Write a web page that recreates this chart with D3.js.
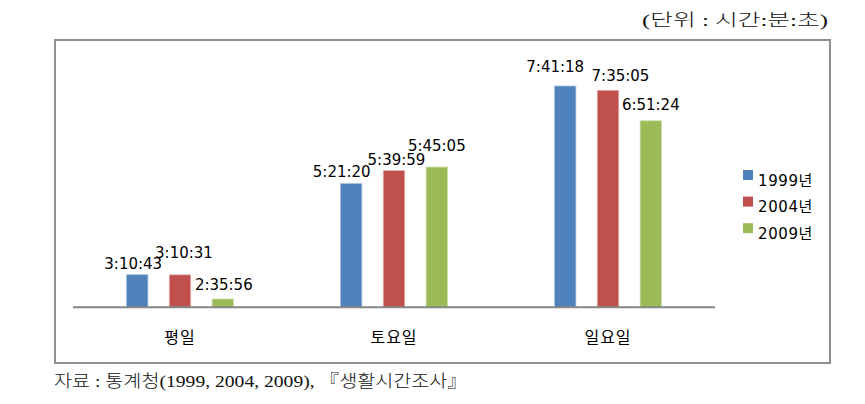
<!DOCTYPE html>
<html>
<head>
<meta charset="utf-8">
<script src="https://cdn.jsdelivr.net/npm/d3@7"></script>
<style>
  html, body { margin: 0; padding: 0; background: #fff; }
  svg { display: block; }
</style>
</head>
<body>
<svg id="chart" width="865" height="404"></svg>
<script>
// ---- data ----
const categories = ["평일", "토요일", "일요일"];
const seriesNames = ["1999년", "2004년", "2009년"];
const values1999 = ["3:10:43", "5:21:20", "7:41:18"];
const values2004 = ["3:10:31", "5:39:59", "7:35:05"];
const values2009 = ["2:35:56", "5:45:05", "6:51:24"];
const axisRange = ["2:24:00", "8:24:00"];
const unitText = "(단위 : 시간:분:초)";
const sourceText = "자료 : 통계청(1999, 2004, 2009), 『생활시간조사』";

// ---- layout / style ----
const colors = ["#4F81BD", "#C0504D", "#9BBB59"];
const edgeColors = ["#A7C0DE", "#E0A8A6", "#CDDDAC"];
// manual label nudges [dx, dy] per category, per series (as placed in the original)
const labelNudge = [
  [[-4, -6], [4, -17], [1, -9]],
  [[-9.5, -7], [2.5, -6], [0, -16.5]],
  [[-10, -13.5], [12.5, -9], [0, -11]]
];

const toSec = s => { const [h, m, sec] = s.split(":").map(Number); return h * 3600 + m * 60 + sec; };
const seriesValues = [values1999, values2004, values2009];
const rows = categories.map((c, i) => ({
  cat: c,
  vals: seriesValues.map((arr, j) => ({ name: seriesNames[j], idx: j, text: arr[i], sec: toSec(arr[i]) }))
}));

const svg = d3.select("#chart");
const plot = { left: 73, right: 715, top: 56.2, bottom: 307.3 };

// frame
svg.append("rect")
  .attr("x", 55).attr("y", 40).attr("width", 775).attr("height", 323)
  .attr("fill", "none").attr("stroke", "#8F8F8F").attr("stroke-width", 2);

const x0 = d3.scaleBand().domain(categories).range([plot.left, plot.right]).paddingInner(0).paddingOuter(0);
const x1 = d3.scaleBand().domain(seriesNames).range([0, x0.bandwidth()]).paddingInner(0.5).paddingOuter(1.25);
const y = d3.scaleLinear().domain(axisRange.map(toSec)).range([plot.bottom, plot.top]);

// bars
const g = svg.append("g");
const groups = g.selectAll("g.cat").data(rows).join("g")
  .attr("class", "cat")
  .attr("transform", d => `translate(${x0(d.cat)},0)`);

groups.selectAll("rect").data(d => d.vals).join("rect")
  .attr("x", d => x1(d.name))
  .attr("y", d => y(d.sec))
  .attr("width", x1.bandwidth())
  .attr("height", d => y(y.domain()[0]) - y(d.sec))
  .attr("fill", d => colors[d.idx])
  .attr("stroke", d => edgeColors[d.idx])
  .attr("stroke-width", 0.8);

// data labels
groups.each(function(d, ci) {
  d3.select(this).selectAll("text.lbl").data(d.vals).join("text")
    .attr("class", "lbl")
    .attr("x", v => x1(v.name) + x1.bandwidth() / 2 + labelNudge[ci][v.idx][0])
    .attr("y", v => y(v.sec) + labelNudge[ci][v.idx][1])
    .attr("text-anchor", "middle")
    .attr("font-family", "'DejaVu Sans', Verdana, sans-serif")
    .attr("font-size", 15)
    .attr("fill", "#000")
    .text(v => v.text);
});

// x axis
const xAxis = d3.axisBottom(x0).tickSize(0).tickPadding(0);
const ax = svg.append("g").attr("transform", `translate(0,${plot.bottom})`).call(xAxis);
ax.select(".domain").attr("stroke", "#868686").attr("stroke-width", 2).attr("d", `M${plot.left},0H${plot.right}`);
ax.selectAll(".tick text")
  .attr("y", 36).attr("dy", 0)
  .attr("font-family", "'Noto Sans CJK KR', sans-serif")
  .attr("font-size", 16)
  .attr("letter-spacing", 1)
  .attr("fill", "#000");

// legend
const legend = svg.append("g").attr("transform", "translate(743,170)");
const li = legend.selectAll("g").data(seriesNames).join("g")
  .attr("transform", (d, i) => `translate(0,${i * 26.6})`);
li.append("rect").attr("width", 10).attr("height", 10).attr("fill", (d, i) => colors[i]);
li.append("text").attr("x", 15).attr("y", 15.5)
  .attr("font-family", "'DejaVu Sans', 'Noto Sans CJK KR', sans-serif")
  .attr("font-size", 15)
  .attr("letter-spacing", 0.6)
  .attr("fill", "#000")
  .text(d => d);

// unit text
svg.append("text").attr("x", 642).attr("y", 26)
  .attr("font-family", "'Liberation Serif', 'Noto Sans CJK KR', serif")
  .attr("font-size", 17)
  .attr("font-weight", 300)
  .attr("textLength", 186).attr("lengthAdjust", "spacingAndGlyphs")
  .attr("fill", "#111")
  .text(unitText);

// source text
svg.append("text").attr("x", 54).attr("y", 387)
  .attr("font-family", "'Liberation Serif', 'Noto Sans CJK KR', serif")
  .attr("font-size", 17)
  .attr("font-weight", 300)
  .attr("textLength", 413).attr("lengthAdjust", "spacingAndGlyphs")
  .attr("fill", "#111")
  .text(sourceText);
</script>
</body>
</html>
